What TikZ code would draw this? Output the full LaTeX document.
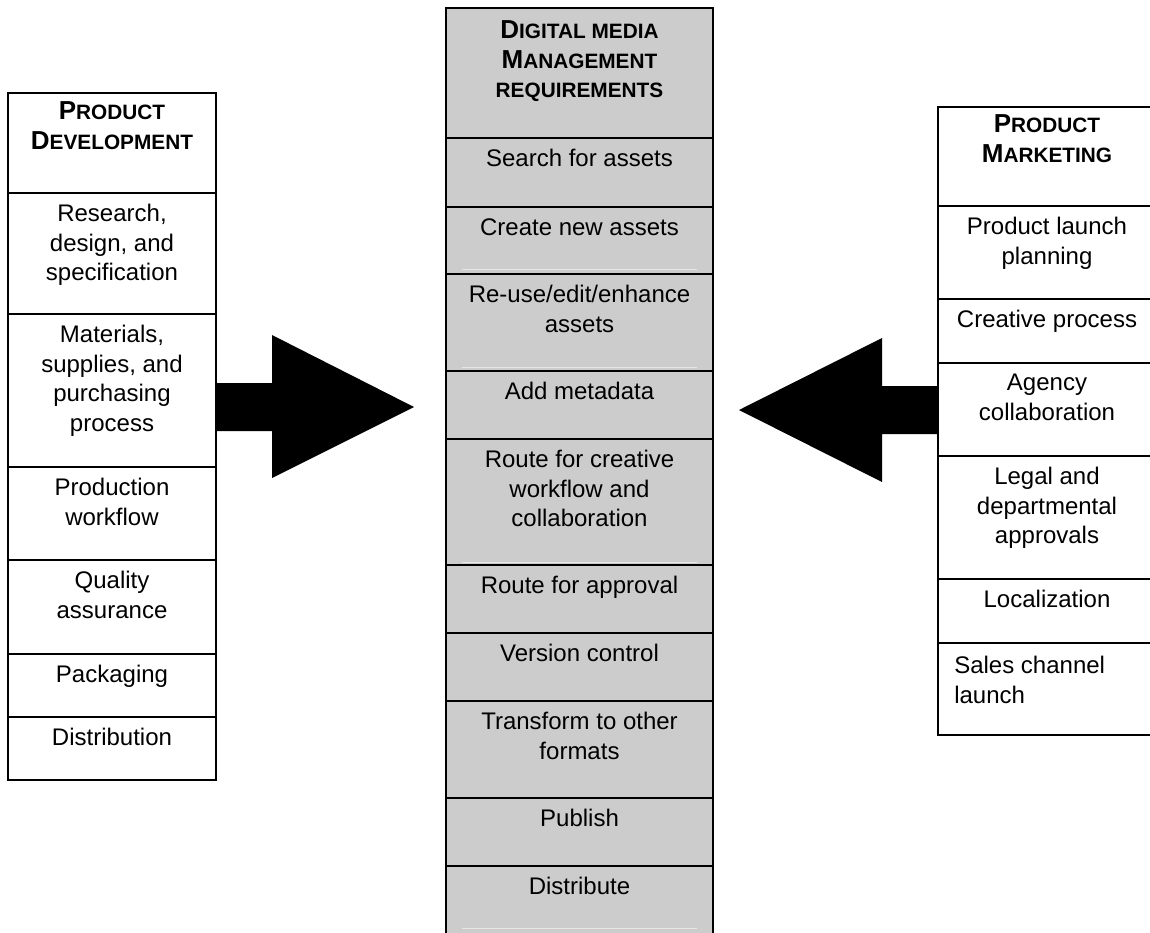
\documentclass[tikz,border=0pt]{standalone}
\usepackage{fontspec}
\setmainfont{Liberation Sans}
\usetikzlibrary{fit}
\definecolor{cellgray}{HTML}{CCCCCC}
\definecolor{faintline}{HTML}{E6E6E6}
\newcommand\bodyfont{\fontsize{12}{14.75}\selectfont}
\newcommand\Hbig{\fontsize{13}{14.75}\selectfont}
\newcommand\Hsmall{\fontsize{10.4}{14.75}\selectfont}
\newcommand\hsc[2]{{\Hbig #1}{\Hsmall #2}}
% \mkcell{style}{name}{x1}{y1}{x2}{y2}{text}
\newcommand\mkcell[7]{%
  \node[#1, fit={(#3,#4) (#5,#6)}] (#2) {};
  \node[celltext] (#2-t) at ([yshift=-6pt]#2.north) {#7};}
\begin{document}
\begin{tikzpicture}[x=0.5pt,y=-0.5pt,
  cellbox/.style={draw=black, line width=1.1pt, inner sep=0pt, fill=white},
  graycell/.style={cellbox, fill=cellgray},
  celltext/.style={inner sep=0pt, align=center, font=\bodyfont, anchor=north},
  headtext/.style={inner sep=0pt, align=center, font=\bfseries\Hbig, anchor=north},
  faint/.style={draw=faintline, line width=0.5pt},
  blockarrow/.style={fill=black}]
\useasboundingbox[fill=white] (0,0) rectangle (1150,932);

% ---------- middle column ----------
\node[graycell, fit={(446,8) (713,138)}] (mh) {};
\node[headtext] (mh-t) at ([yshift=-6.7pt]mh.north) {\hsc{D}{IGITAL MEDIA}\\\hsc{M}{ANAGEMENT}\\{\Hsmall REQUIREMENTS}};
\mkcell{graycell}{m1}{446}{138}{713}{207}{Search for assets}
\mkcell{graycell}{m2}{446}{207}{713}{274}{Create new assets}
\mkcell{graycell}{m3}{446}{274}{713}{371}{Re-use/edit/enhance\\assets}
\mkcell{graycell}{m4}{446}{371}{713}{439}{Add metadata}
\mkcell{graycell}{m5}{446}{439}{713}{565}{Route for creative\\workflow and\\collaboration}
\mkcell{graycell}{m6}{446}{565}{713}{633}{Route for approval}
\mkcell{graycell}{m7}{446}{633}{713}{701}{Version control}
\mkcell{graycell}{m8}{446}{701}{713}{798}{Transform to other\\formats}
\mkcell{graycell}{m9}{446}{798}{713}{866}{Publish}
\mkcell{graycell}{m10}{446}{866}{713}{945}{Distribute}
\coordinate (f1a) at (462,269); \coordinate (f1b) at (697,269);
\coordinate (f2a) at (462,367); \coordinate (f2b) at (697,367);
\coordinate (f3a) at (462,562); \coordinate (f3b) at (697,562);
\coordinate (f4a) at (462,928); \coordinate (f4b) at (697,928);
\draw[faint] (f1a) -- (f1b);
\draw[faint] (f2a) -- (f2b);
\draw[faint] (f3a) -- (f3b);
\draw[faint] (f4a) -- (f4b);

% ---------- left column ----------
\node[cellbox, fit={(8,93) (216,193)}] (lh) {};
\node[headtext] (lh-t) at ([yshift=-4.7pt]lh.north) {\hsc{P}{RODUCT}\\\hsc{D}{EVELOPMENT}};
\mkcell{cellbox}{l1}{8}{193}{216}{314}{Research,\\design, and\\specification}
\mkcell{cellbox}{l2}{8}{314}{216}{467}{Materials,\\supplies, and\\purchasing\\process}
\mkcell{cellbox}{l3}{8}{467}{216}{560}{Production\\workflow}
\mkcell{cellbox}{l4}{8}{560}{216}{654}{Quality\\assurance}
\mkcell{cellbox}{l5}{8}{654}{216}{717}{Packaging}
\mkcell{cellbox}{l6}{8}{717}{216}{780}{Distribution}

% ---------- right column ----------
\node[cellbox, fit={(938,107) (1156,206)}] (rh) {};
\node[headtext] (rh-t) at ([yshift=-4.2pt]rh.north) {\hsc{P}{RODUCT}\\\hsc{M}{ARKETING}};
\mkcell{cellbox}{r1}{938}{206}{1156}{299}{Product launch\\planning}
\mkcell{cellbox}{r2}{938}{299}{1156}{363}{Creative process}
\mkcell{cellbox}{r3}{938}{363}{1156}{456}{Agency\\collaboration}
\mkcell{cellbox}{r4}{938}{456}{1156}{579}{Legal and\\departmental\\approvals}
\mkcell{cellbox}{r5}{938}{579}{1156}{643}{Localization}
\node[cellbox, fit={(938,643) (1156,735)}] (r6) {};
\node[celltext, align=left, anchor=north west] (r6-t) at ([xshift=8.5pt,yshift=-7pt]r6.north west) {Sales channel\\launch};

% ---------- block arrows ----------
\fill[blockarrow] (215,383) -- (272,383) -- (272,335) -- (414,407) -- (272,478) -- (272,431) -- (215,431) -- cycle;
\fill[blockarrow] (938,386) -- (882,386) -- (882,338) -- (739,410) -- (882,482) -- (882,434) -- (938,434) -- cycle;
\end{tikzpicture}
\end{document}
